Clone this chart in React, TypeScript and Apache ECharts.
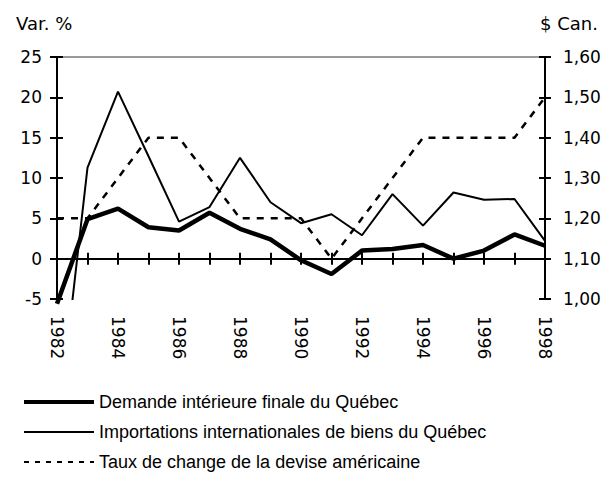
import React, { useEffect, useRef } from "react";
import * as echarts from "echarts";

const years = ["1982","1983","1984","1985","1986","1987","1988","1989","1990","1991","1992","1993","1994","1995","1996","1997","1998"];
const demande = [-5.6, 4.9, 6.2, 3.9, 3.5, 5.7, 3.7, 2.4, -0.2, -1.9, 1.0, 1.2, 1.7, 0.0, 1.0, 3.0, 1.6];
const importations = [-22, 11.3, 20.7, 12.7, 4.6, 6.4, 12.5, 7.0, 4.4, 5.5, 2.9, 8.0, 4.1, 8.2, 7.3, 7.4, 2.2];
const tauxChange = [1.2, 1.2, 1.3, 1.4, 1.4, 1.3, 1.2, 1.2, 1.2, 1.1, 1.2, 1.3, 1.4, 1.4, 1.4, 1.4, 1.5];
const seriesNames = [
  "Demande intérieure finale du Québec",
  "Importations internationales de biens du Québec",
  "Taux de change de la devise américaine",
];
const leftTitle = "Var. %";
const rightTitle = "$ Can.";

const tickFont = "DejaVu Sans";
const legendFont = "Liberation Sans, Arial, sans-serif";

export default function App() {
  const ref = useRef<HTMLDivElement>(null);
  useEffect(() => {
    if (!ref.current) return;
    const chart = echarts.init(ref.current, null, { renderer: "svg" });
    const axisLine = { show: true, lineStyle: { color: "#000", width: 2 } };
    const tickStyle = { color: "#000", width: 2 };
    const leftBase = { type: "value", min: -5, max: 25, interval: 5, splitLine: { show: false } };
    const rightBase = { type: "value", min: 1.0, max: 1.6, interval: 0.1, splitLine: { show: false } };
    chart.setOption({
      animation: false,
      backgroundColor: "#fff",
      grid: { left: 57, top: 57, width: 488, height: 242, containLabel: false },
      xAxis: [
        {
          type: "category", data: years, boundaryGap: false, position: "bottom",
          axisLine,
          axisTick: { show: true, inside: false, length: 6, interval: 0, lineStyle: tickStyle },
          axisLabel: { interval: 1, rotate: -90, margin: 17, color: "#000", fontFamily: tickFont, fontSize: 17 },
          splitLine: { show: false },
        },
        {
          type: "category", data: years, boundaryGap: false, position: "bottom",
          axisLine,
          axisTick: { show: true, inside: true, length: 6, interval: 0, lineStyle: tickStyle },
          axisLabel: { show: false },
          splitLine: { show: false },
        },
        {
          type: "category", data: years, boundaryGap: false, position: "top",
          axisLine: { show: true, lineStyle: { color: "#999", width: 2 } },
          axisTick: { show: false },
          axisLabel: { show: false },
          splitLine: { show: false },
        },
      ],
      yAxis: [
        {
          ...leftBase, position: "left", axisLine,
          axisTick: { show: true, inside: false, length: 7, lineStyle: tickStyle },
          axisLabel: { margin: 15, color: "#000", fontFamily: tickFont, fontSize: 17 },
        },
        {
          ...leftBase, position: "left", axisLine,
          axisTick: { show: true, inside: true, length: 6, lineStyle: tickStyle },
          axisLabel: { show: false },
        },
        {
          ...rightBase, position: "right", axisLine,
          axisTick: { show: true, inside: false, length: 6, lineStyle: tickStyle },
          axisLabel: {
            margin: 18, color: "#000", fontFamily: tickFont, fontSize: 17,
            formatter: (v: number) => v.toFixed(2).replace(".", ","),
          },
        },
        {
          ...rightBase, position: "right", axisLine,
          axisTick: { show: true, inside: true, length: 6, lineStyle: tickStyle },
          axisLabel: { show: false },
        },
      ],
      legend: {
        orient: "vertical", left: 17, top: 388,
        itemWidth: 70, itemHeight: 14, itemGap: 12,
        itemStyle: { opacity: 0, borderWidth: 0 },
        textStyle: { color: "#000", fontFamily: legendFont, fontSize: 18 },
        data: [
          { name: seriesNames[0], lineStyle: { width: 4 } },
          { name: seriesNames[1], lineStyle: { width: 2 } },
          { name: seriesNames[2], lineStyle: { type: [5, 6], width: 2 } },
        ],
      },
      graphic: [
        { type: "text", left: 16, top: 14, style: { text: leftTitle, fill: "#000", font: `18px ${tickFont}` } },
        { type: "text", right: 15, top: 14, style: { text: rightTitle, fill: "#000", font: `18px ${tickFont}` } },
      ],
      series: [
        {
          name: seriesNames[1], type: "line", data: importations, xAxisIndex: 0, yAxisIndex: 0,
          showSymbol: false, symbol: "none", clip: true,
          lineStyle: { color: "#000", width: 2 }, itemStyle: { color: "#000" },
        },
        {
          name: seriesNames[2], type: "line", data: tauxChange, xAxisIndex: 0, yAxisIndex: 2,
          showSymbol: false, symbol: "none", clip: false,
          lineStyle: { color: "#000", width: 2.5, type: [7, 7] }, itemStyle: { color: "#000" },
        },
        {
          name: seriesNames[0], type: "line", data: demande, xAxisIndex: 0, yAxisIndex: 0,
          showSymbol: false, symbol: "none", clip: false,
          lineStyle: { color: "#000", width: 4.5 }, itemStyle: { color: "#000" },
        },
      ],
    });
    return () => chart.dispose();
  }, []);
  return <div ref={ref} style={{ position: "fixed", left: 0, top: 0, width: 613, height: 481 }} />;
}
